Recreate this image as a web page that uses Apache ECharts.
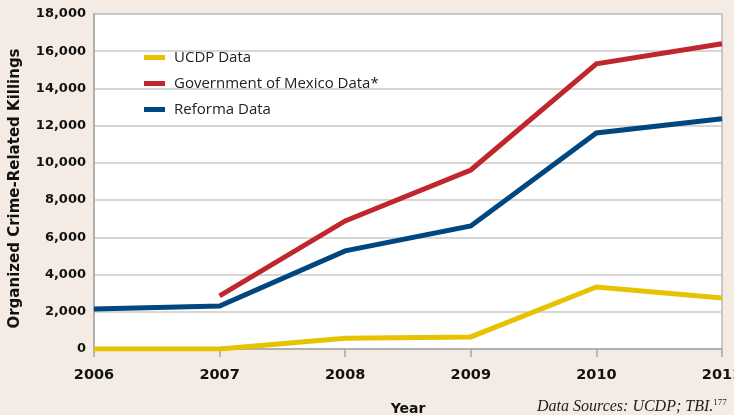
<!DOCTYPE html>
<html><head><meta charset="utf-8">
<script src="https://cdn.jsdelivr.net/npm/echarts@6/dist/echarts.min.js"></script>
<style>html,body{margin:0;padding:0;background:#f4ece4;}#c{width:734px;height:415px;}</style>
</head><body><div id="c"></div>
<script>
const years = ['2006','2007','2008','2009','2010','2011'];
const ucdp = [0, 0, 580, 650, 3330, 2740];
const govMexico = [null, 2850, 6880, 9620, 15320, 16400];
const reforma = [2150, 2310, 5270, 6610, 11610, 12370];
const seriesNames = ['UCDP Data', 'Government of Mexico Data*', 'Reforma Data'];
const colors = ['#e6c200', '#c0272d', '#00467f'];

const chart = echarts.init(document.getElementById('c'));
const mk = (name, data, color) => ({
  name, type: 'line', data, symbol: 'none', connectNulls: false,
  lineStyle: { width: 5, color, cap: 'butt', join: 'miter' }, itemStyle: { color }
});
chart.setOption({
  backgroundColor: '#f4ece4',
  animation: false,
  grid: { left: 94, right: 12, top: 14, bottom: 66, outerBoundsMode: 'none', containLabel: false,
    show: true, backgroundColor: '#ffffff', borderColor: '#b8b8b8', borderWidth: 1.5 },
  legend: {
    orient: 'vertical', left: 139, top: 45, itemGap: 11, itemWidth: 21, itemHeight: 5,
    icon: 'rect', data: seriesNames,
    textStyle: { fontFamily: 'Open Sans', fontSize: 15, color: '#222', padding: [0, 0, 0, 4] }
  },
  xAxis: {
    type: 'category', data: years, boundaryGap: false,
    name: 'Year', nameLocation: 'middle', nameGap: 53,
    nameTextStyle: { fontFamily: 'DejaVu Sans', fontWeight: 'bold', fontSize: 14, color: '#111' },
    axisLine: { lineStyle: { color: '#a8a8a8', width: 1.5 } },
    axisTick: { show: true, length: 8, lineStyle: { color: '#a8a8a8', width: 1.5 } },
    axisLabel: { margin: 19, fontFamily: 'DejaVu Sans', fontWeight: 'bold', fontSize: 14.5, color: '#111' },
    splitLine: { show: false }
  },
  yAxis: {
    type: 'value', min: 0, max: 18000, interval: 2000,
    name: 'Organized Crime-Related Killings', nameLocation: 'middle', nameGap: 71,
    nameTextStyle: { fontFamily: 'DejaVu Sans', fontWeight: 'bold', fontSize: 15, color: '#111', padding: [0, 14, 0, 0] },
    axisLine: { show: true, lineStyle: { color: '#a8a8a8', width: 1.5 } },
    axisTick: { show: false },
    axisLabel: { margin: 8, fontFamily: 'DejaVu Sans', fontWeight: 'bold', fontSize: 13, color: '#111',
      formatter: v => v.toLocaleString('en-US') },
    splitLine: { lineStyle: { color: '#c8c8c8', width: 1.5 } }
  },
  series: [
    mk(seriesNames[0], ucdp, colors[0]),
    mk(seriesNames[1], govMexico, colors[1]),
    mk(seriesNames[2], reforma, colors[2])
  ],
  graphic: [{
    type: 'text', left: 537, top: 398,
    style: {
      text: '{a|Data Sources: UCDP; TBI.}{s|177}',
      rich: {
        a: { fontFamily: 'Liberation Serif', fontStyle: 'italic', fontSize: 16, fill: '#222' },
        s: { fontFamily: 'Liberation Serif', fontSize: 9, fill: '#222', verticalAlign: 'top', padding: [0,0,8,0] }
      }
    }
  }]
});
</script></body></html>
